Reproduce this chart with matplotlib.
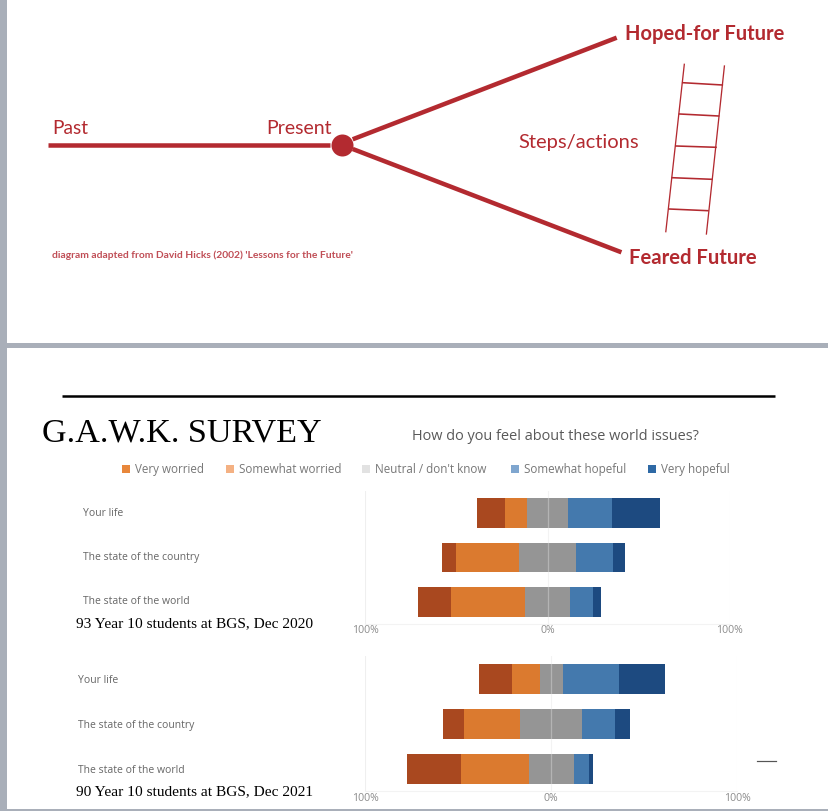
import numpy as np
import matplotlib
matplotlib.use('Agg')
import matplotlib.pyplot as plt
from matplotlib.transforms import ScaledTranslation

W, H = 828, 811

# survey data, percent of students
categories = ['Your life', 'The state of the country', 'The state of the world']
responses = ["Very worried", "Somewhat worried", "Neutral / don't know", "Somewhat hopeful", "Very hopeful"]
survey_2020 = [[15.2, 11.9, 22.7, 24.2, 26.0],
               [7.9, 34.4, 31.7, 20.3, 6.2],
               [18.3, 40.3, 25.1, 12.4, 4.4]]
survey_2021 = [[17.9, 14.7, 12.4, 30.3, 24.4],
               [10.9, 30.5, 33.2, 17.9, 7.9],
               [28.7, 36.7, 24.2, 8.4, 1.8]]
tick_values = [-100, 0, 100]
tick_labels = ['100%', '0%', '100%']

bar_colors = ['#A9481F', '#DB7A2F', '#959595', '#4479AD', '#1D4A80']
legend_colors = ['#E8873B', '#F4B183', '#E2E2E2', '#7FA6CF', '#2E69A5']
legend_square_x = [122, 226, 362, 511, 648]

# futures diagram, in picture pixels
past_line = [(48, 144.7), (330, 144.7)]
hoped_line = [(352.7, 139.3), (616.7, 37.7)]
feared_line = [(352.7, 149), (621.4, 252.3)]
ladder_rails = [[(684.3, 64.3), (665.8, 231.7)], [(724.4, 66), (706.4, 234)]]
ladder_rungs = [[(682.7, 82.7), (722.3, 85)], [(679.5, 114), (718.6, 116)],
                [(675.8, 146), (716, 147.3)], [(672.1, 177.7), (711.7, 179.3)],
                [(669, 209), (708, 210.7)]]

RED = '#B32A30'
GREY = '#A9AFB9'
LABEL = '#666666'

plt.rcParams['font.family'] = ['Open Sans', 'DejaVu Sans']

fig = plt.figure(figsize=((W + 0.01) / 100, (H + 0.01) / 100), dpi=100, facecolor='white')
bg = fig.add_axes([0, 0, 1, 1])
bg.set_xlim(0, W)
bg.set_ylim(H, 0)
bg.axis('off')


def px(n):
    return n * 72 / 100


# page edges
bg.fill_between([0, 7], 0, H, color=GREY, lw=0)
bg.fill_between([0, W], 343.5, 347.8, color=GREY, lw=0)
bg.fill_between([0, W], 809.5, H, color=GREY, lw=0)

for seg in [past_line, hoped_line, feared_line]:
    bg.plot(*zip(*seg), color=RED, lw=px(4.5), solid_capstyle='butt')
for seg in ladder_rails:
    bg.plot(*zip(*seg), color=RED, lw=px(1.3))
for seg in ladder_rungs:
    bg.plot(*zip(*seg), color=RED, lw=px(1.6))
bg.plot([342], [144.7], 'o', color=RED, ms=px(22), mew=0)

future = 'Lato'
bg.text(52, 134, 'Past', color=RED, fontsize=13.8, family=future, va='baseline')
bg.text(266, 134, 'Present', color=RED, fontsize=14, family=future, va='baseline')
bg.text(518, 148, 'Steps/actions', color=RED, fontsize=14.5, family=future, va='baseline')
bg.text(625, 40, 'Hoped-for Future', color=RED, fontsize=14.5, family=future, weight='bold', va='baseline')
bg.text(629, 264, 'Feared Future', color=RED, fontsize=14.6, family=future, weight='bold', va='baseline')
bg.text(52, 258, "diagram adapted from David Hicks (2002) 'Lessons for the Future'", color='#C04E56',
        fontsize=7.35, family=future, weight='bold', va='baseline')

# survey header
bg.plot([62, 775], [396.5, 396.5], color='black', lw=px(2.5), solid_capstyle='butt')
bg.text(42, 441, 'G.A.W.K. SURVEY', family='Liberation Serif', fontsize=24.6, color='black', va='baseline')
bg.text(412, 440, 'How do you feel about these world issues?', fontsize=10.45, color='#595959', va='baseline')
for sx, name, col in zip(legend_square_x, responses, legend_colors):
    bg.plot([sx + 4], [469], 's', color=col, ms=px(8), mew=0)
    bg.text(sx + 12.5, 469, name, fontsize=8.4, color='#777777', va='center')


def survey_axes(values, left, right, top, bottom, note, note_y, label_x, label_dy):
    ax = fig.add_axes([left / W, 1 - bottom / H, (right - left) / W, (bottom - top) / H])
    ax.patch.set_alpha(0)
    vals = np.array(values)
    y = np.arange(len(categories))
    # bars centred on the middle of the neutral block
    start = -(vals[:, 0] + vals[:, 1] + vals[:, 2] / 2)
    for i in range(vals.shape[1]):
        ax.barh(y, vals[:, i], left=start, height=0.67, color=bar_colors[i], lw=0, zorder=2)
        start = start + vals[:, i]
    ax.set_xlim(-100, 100)
    ax.set_ylim(len(categories) - 0.5, -0.5)
    ax.set_xticks(tick_values, tick_labels)
    ax.set_yticks(y, categories)
    ax.grid(axis='x', color='#EFEFEF', lw=0.8, zorder=0)
    # zero line shows through the bars as a pale stripe
    ax.axvline(0, color='white', alpha=0.3, lw=0.9, zorder=3)
    ax.tick_params(length=0)
    ax.tick_params(axis='x', labelsize=7.6, labelcolor='#8C8C8C', pad=1)
    ax.tick_params(axis='y', labelsize=7.5, labelcolor=LABEL, pad=0)
    for s in ['top', 'left', 'right']:
        ax.spines[s].set_visible(False)
    ax.spines['bottom'].set_color('#F3F3F3')
    shift = ScaledTranslation(0, label_dy / 100, fig.dpi_scale_trans)
    for lab in ax.get_yticklabels():
        lab.set_ha('left')
        lab.set_x(-(left - label_x) / (right - left))
        lab.set_transform(lab.get_transform() + shift)
    bg.text(76, note_y, note, family='Liberation Serif', fontsize=11.1, color='black', va='baseline')
    return ax


survey_axes(survey_2020, 365.3, 729.7, 491, 624, '93 Year 10 students at BGS, Dec 2020', 627, 83, 1.5)
survey_axes(survey_2021, 365.3, 737.3, 656.5, 791.5, '90 Year 10 students at BGS, Dec 2021', 795, 78, 0)

bg.plot([757, 776], [761.5, 761.5], color='#555555', lw=px(1.2))

fig.savefig('out.png', dpi=100)
